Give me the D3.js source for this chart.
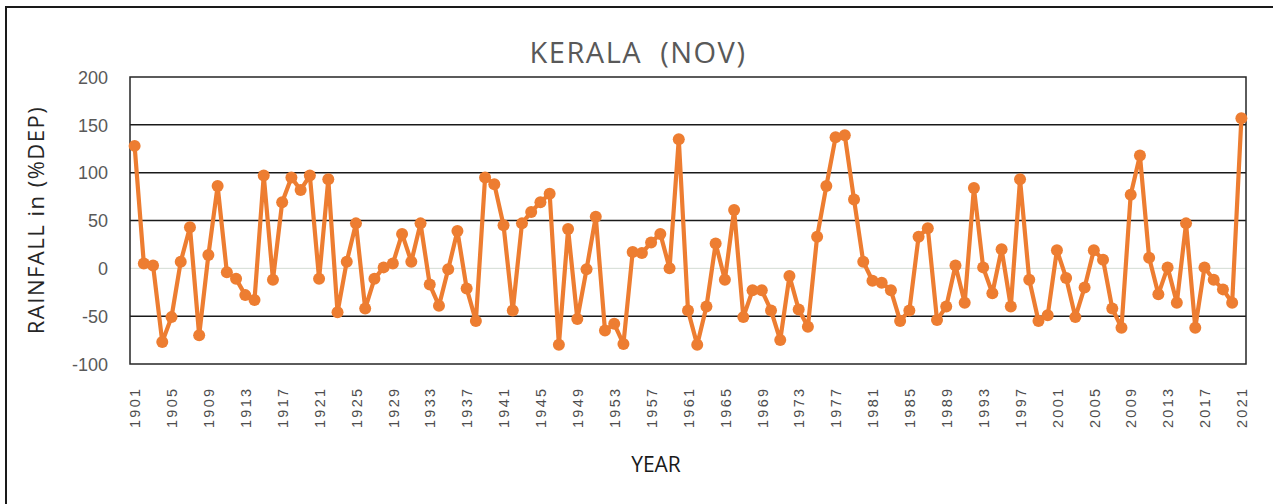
<!DOCTYPE html>
<html>
<head>
<meta charset="utf-8">
<script src="https://d3js.org/d3.v7.min.js"></script>
<style>
  body { margin: 0; background: #fff; }
  svg { display: block; font-family: "Open Sans", "Liberation Sans", sans-serif; }
</style>
</head>
<body>
<svg id="chart" width="1273" height="504"></svg>
<script>
// Kerala November rainfall, % departure from normal, 1901-2021
var firstYear = 1901;
var lastYear = 2021;
var years = d3.range(firstYear, lastYear + 1);

var departures = [
  128, 5, 3, -77, -51, 7, 43, -70, 14, 86,
  -4, -11, -28, -33, 97, -12, 69, 95, 82, 97,
  -11, 93, -46, 7, 47, -42, -11, 1, 5, 36,
  7, 47, -17, -39, -1, 39, -21, -55, 95, 88,
  45, -44, 47, 59, 69, 78, -80, 41, -53, -1,
  54, -65, -58, -79, 17, 16, 27, 36, 0, 135,
  -44, -80, -40, 26, -12, 61, -51, -23, -23, -44,
  -75, -8, -43, -61, 33, 86, 137, 139, 72, 7,
  -13, -15, -23, -55, -44, 33, 42, -54, -40, 3,
  -36, 84, 1, -26, 20, -40, 93, -12, -55, -49,
  19, -10, -51, -20, 19, 9, -42, -62, 77, 118,
  11, -27, 1, -36, 47, -62, 1, -12, -22, -36,
  157
];

var yTicks = [-100, -50, 0, 50, 100, 150, 200];
var xTickYears = years.filter(function(y) { return (y - firstYear) % 4 === 0; });

var titleText = "KERALA  (NOV)";
var yTitleText = "RAINFALL in (%DEP)";
var xTitleText = "YEAR";

var svg = d3.select("#chart");

// outer chart frame (runs off the right and bottom of the shot)
svg.append("rect")
  .attr("x", 6).attr("y", 7)
  .attr("width", 1320).attr("height", 600)
  .attr("fill", "none")
  .attr("stroke", "#1a1a1a")
  .attr("stroke-width", 2);

var plot = {left: 130, right: 1246, top: 77, bottom: 364};

var x = d3.scalePoint()
  .domain(years)
  .range([plot.left, plot.right])
  .padding(0.5);

var y = d3.scaleLinear()
  .domain([-100, 200])
  .range([plot.bottom, plot.top]);

// gridlines
svg.append("g")
  .selectAll("line")
  .data(yTicks.filter(function(t) { return t !== -100 && t !== 200; }))
  .enter().append("line")
  .attr("x1", plot.left).attr("x2", plot.right)
  .attr("y1", function(d) { return y(d); })
  .attr("y2", function(d) { return y(d); })
  .attr("stroke", function(d) { return d === 0 ? "#d3dbd3" : "#1a1a1a"; })
  .attr("stroke-width", function(d) { return d === 0 ? 1 : 1.5; });

// plot area border
svg.append("rect")
  .attr("x", plot.left).attr("y", plot.top)
  .attr("width", plot.right - plot.left)
  .attr("height", plot.bottom - plot.top)
  .attr("fill", "none")
  .attr("stroke", "#262626")
  .attr("stroke-width", 1.5);

// y axis labels (plain hyphen for negatives, like the original)
var yAxis = d3.axisLeft(y).tickValues(yTicks).tickSize(0).tickPadding(0)
  .tickFormat(function(d) { return String(d); });
var gy = svg.append("g")
  .attr("transform", "translate(108,0)")
  .call(yAxis);
gy.select(".domain").remove();
gy.selectAll("text")
  .attr("fill", "#595959")
  .style("font-size", "18px")
  .attr("dy", "0.35em");

// x axis labels, rotated
var xAxis = d3.axisBottom(x).tickValues(xTickYears).tickSize(0).tickPadding(0);
var gx = svg.append("g")
  .attr("transform", "translate(0,382)")
  .call(xAxis);
gx.select(".domain").remove();
gx.selectAll("text")
  .attr("fill", "#4d4d4d")
  .style("font-size", "14.5px")
  .style("letter-spacing", "2.3px")
  .attr("transform", "rotate(-90)")
  .attr("x", -46)
  .attr("y", 0)
  .attr("dy", "0.36em")
  .attr("text-anchor", "start");

// the series
var line = d3.line()
  .x(function(d, i) { return x(years[i]); })
  .y(function(d) { return y(d); });

svg.append("path")
  .datum(departures)
  .attr("d", line)
  .attr("fill", "none")
  .attr("stroke", "#ED7D31")
  .attr("stroke-width", 4.2)
  .attr("stroke-linejoin", "round");

svg.append("g")
  .selectAll("circle")
  .data(departures)
  .enter().append("circle")
  .attr("cx", function(d, i) { return x(years[i]); })
  .attr("cy", function(d) { return y(d); })
  .attr("r", 6)
  .attr("fill", "#ED7D31");

// titles
svg.append("text")
  .attr("x", 638).attr("y", 63)
  .attr("text-anchor", "middle")
  .attr("fill", "#595959")
  .style("font-size", "29px")
  .style("letter-spacing", "1.5px")
  .style("white-space", "pre")
  .text(titleText);

svg.append("text")
  .attr("transform", "translate(44,220) rotate(-90)")
  .attr("text-anchor", "middle")
  .attr("fill", "#262626")
  .style("font-size", "22px")
  .style("letter-spacing", "1.5px")
  .text(yTitleText);

svg.append("text")
  .attr("x", 656).attr("y", 472)
  .attr("text-anchor", "middle")
  .attr("fill", "#1a1a1a")
  .style("font-size", "21px")
  .style("font-weight", "500")
  .text(xTitleText);
</script>
</body>
</html>
